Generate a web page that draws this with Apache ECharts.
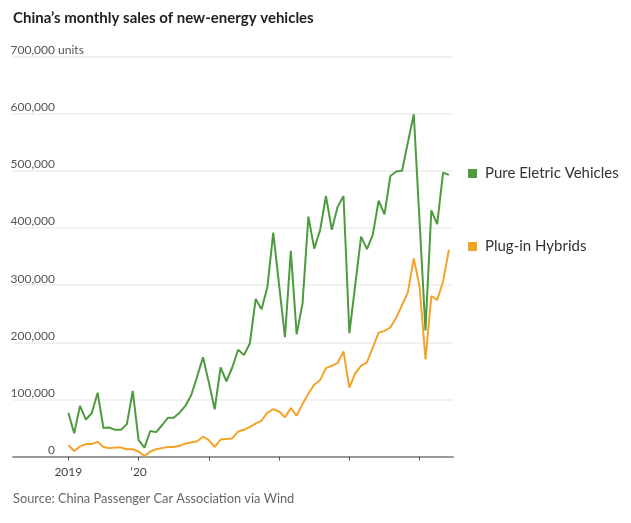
<!DOCTYPE html>
<html>
<head>
<meta charset="utf-8">
<script src="https://cdn.jsdelivr.net/npm/echarts@6/dist/echarts.min.js"></script>
<style>
html,body{margin:0;padding:0;background:#fff;}
#c{width:631px;height:523px;}
</style>
</head>
<body>
<div id="c"></div>
<script>
// Months since Jan 2019 (index 0 = Jan 2019, 65 = Jun 2024)
const monthIndex = Array.from({length: 66}, (_, i) => i);
// Monthly sales, thousands of units
const pureElectric = [77, 41, 89, 65, 76, 112, 50, 51, 47, 47, 57, 115,
  29, 16, 45, 43, 55, 68, 68, 77, 89, 108, 140, 174,
  130, 83, 156, 132, 156, 187, 178, 198, 276, 258, 297, 392,
  300, 209, 360, 214, 268, 420, 364, 396, 456, 397, 437, 456,
  216, 300, 385, 363, 388, 448, 424, 491, 499, 500, 550, 599,
  410, 221, 431, 407, 497, 493];
const plugInHybrid = [20, 10, 18, 22, 22, 26, 17, 15, 16, 16, 13, 13,
  9, 1, 9, 13, 15, 17, 17, 19, 23, 25, 27, 35,
  29, 17, 30, 31, 32, 44, 47, 52, 58, 63, 77, 83,
  79, 69, 85, 72, 92, 110, 126, 134, 155, 159, 164, 184,
  121, 146, 159, 165, 191, 217, 220, 226, 243, 265, 288, 347,
  297, 170, 281, 274, 306, 362];
const seriesNames = ['Pure Eletric Vehicles', 'Plug-in Hybrids'];
const xTickValues = [0, 12, 24, 36, 48, 60];
const xLabelValues = [0, 12];
const xLabelText = {0: '2019', 12: '\u201920'};

const FONT = 'Lato, "Open Sans", sans-serif';
const toPairs = arr => monthIndex.map(i => [i, arr[i] * 1000]);

const chart = echarts.init(document.getElementById('c'), null, {renderer: 'canvas'});
chart.setOption({
  animation: false,
  backgroundColor: '#ffffff',
  textStyle: {fontFamily: FONT},
  title: [
    {
      text: 'China\u2019s monthly sales of new-energy vehicles',
      left: 13, top: 11, padding: 0,
      textStyle: {fontFamily: FONT, fontSize: 15, fontWeight: 'bold', color: '#222'}
    },
    {
      text: 'Source: China Passenger Car Association via Wind',
      left: 13, top: 492, padding: 0,
      textStyle: {fontFamily: FONT, fontSize: 12.8, fontWeight: 'normal', color: '#666'}
    }
  ],
  legend: {
    orient: 'vertical',
    left: 463, top: 161,
    itemGap: 58,
    itemWidth: 9, itemHeight: 9,
    icon: 'rect',
    data: seriesNames,
    textStyle: {fontFamily: FONT, fontSize: 15, color: '#333', padding: [0, 0, 0, 3]}
  },
  grid: {left: 13, right: 178, top: 56.5, bottom: 66.3, containLabel: false},
  xAxis: {
    type: 'value',
    min: -9.45, max: 65.7,
    axisLine: {show: true, lineStyle: {color: '#9a9a9a', width: 2}},
    axisTick: {show: true, customValues: xTickValues, length: 4, lineStyle: {color: '#555', width: 1}},
    axisLabel: {
      show: true, customValues: xLabelValues, margin: 9,
      formatter: v => xLabelText[v] || '',
      fontFamily: FONT, fontSize: 12, color: '#444'
    },
    splitLine: {show: false}
  },
  yAxis: {
    type: 'value',
    min: 0, max: 700000, interval: 100000,
    axisLine: {show: false},
    axisTick: {show: false},
    splitLine: {show: true, lineStyle: {color: '#ececec', width: 1.5}},
    axisLabel: {
      inside: true, margin: 0, align: 'left', verticalAlign: 'bottom',
      showMaxLabel: true,
      formatter: v => {
        const s = v.toLocaleString('en-US');
        return v === 700000 ? '{n|' + s + '}{u| units}' : '{n|' + s + '}';
      },
      rich: {
        n: {width: 42, align: 'right', fontFamily: FONT, fontSize: 12, color: '#555', lineHeight: 13},
        u: {align: 'right', fontFamily: FONT, fontSize: 12, color: '#555', lineHeight: 13}
      }
    }
  },
  series: [
    {
      name: seriesNames[0], type: 'line', data: toPairs(pureElectric),
      showSymbol: false, symbol: 'none',
      lineStyle: {color: '#4e9b3f', width: 2},
      itemStyle: {color: '#4e9b3f'}, z: 3
    },
    {
      name: seriesNames[1], type: 'line', data: toPairs(plugInHybrid),
      showSymbol: false, symbol: 'none',
      lineStyle: {color: '#f4a32a', width: 2},
      itemStyle: {color: '#f4a32a'}, z: 2
    }
  ]
});
</script>
</body>
</html>
